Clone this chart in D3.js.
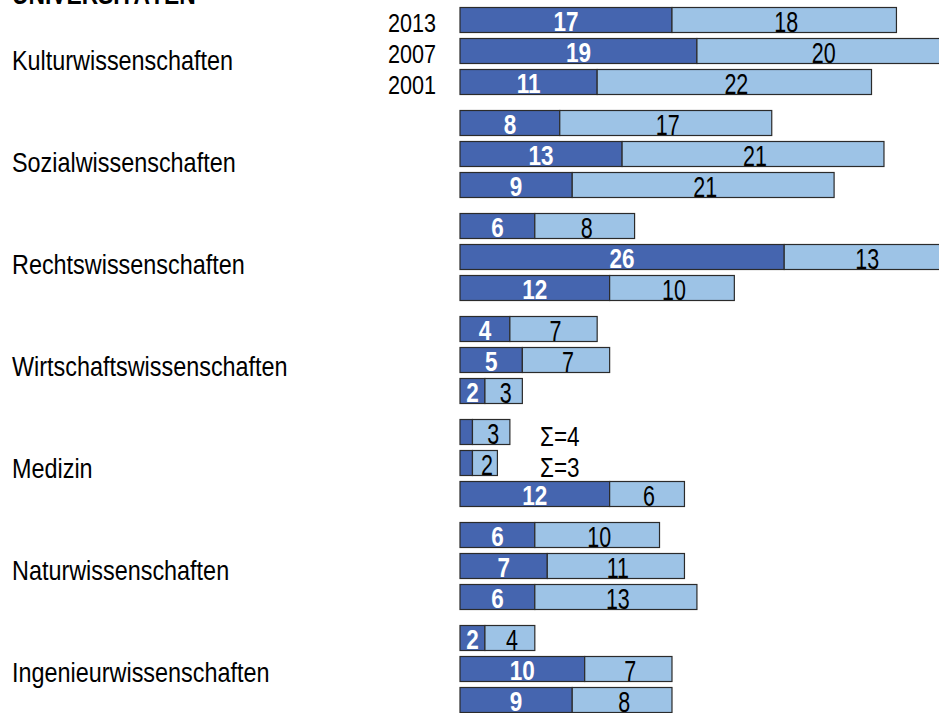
<!DOCTYPE html>
<html>
<head>
<meta charset="utf-8">
<script src="https://cdn.jsdelivr.net/npm/d3@7"></script>
<style>
  html, body { margin: 0; padding: 0; background: #fff; }
  svg { display: block; font-family: "Liberation Sans", Arial, sans-serif; }
</style>
</head>
<body>
<div id="chart"></div>
<script>
const title = 'UNIVERSITÄTEN'
const categories = ['Kulturwissenschaften', 'Sozialwissenschaften', 'Rechtswissenschaften',
    'Wirtschaftswissenschaften', 'Medizin', 'Naturwissenschaften', 'Ingenieurwissenschaften']
const years = ['2013', '2007', '2001']
// dark segment (first value), per category, per year
const darkValues = [[17, 19, 11], [8, 13, 9], [6, 26, 12], [4, 5, 2], [1, 1, 12], [6, 7, 6], [2, 10, 9]]
// light segment (second value)
const lightValues = [[18, 20, 22], [17, 21, 21], [8, 13, 10], [7, 7, 3], [3, 2, 6], [10, 11, 13], [4, 7, 8]]
// rows that get a total annotation
const sumNotes = [['Medizin', '2013'], ['Medizin', '2007']]

const width = 939, height = 713
const SY = 1.22 // the original text is stretched vertically
const DARK = '#4565AF', LIGHT = '#9DC3E6', EDGE = '#2b2b2b'

const svg = d3.select('#chart').append('svg')
    .attr('width', width).attr('height', height)

const x = d3.scaleLinear().domain([0, 40]).range([460, 958.8])

const yGroup = d3.scaleBand()
    .domain(categories)
    .range([7.5, 7.5 + categories.length * 103])

const yYear = d3.scaleBand()
    .domain(years)
    .range([0, 87])
    .paddingInner(0.1935)

const yLabel = d3.scalePoint().domain(categories).range([69.5, 681.5])

function stretchedText(g, tx, ty, sy = SY) {
    return g.append('text').attr('transform', `translate(${tx},${ty}) scale(1,${sy})`)
}

// title (cut off at top)
stretchedText(svg, 12, 4)
    .attr('font-size', '22.8px').attr('font-weight', 'bold').attr('fill', '#000')
    .text(title)

// category labels
categories.forEach(c => {
    stretchedText(svg, 12, yLabel(c))
        .attr('font-size', '23.4px').attr('fill', '#000')
        .text(c)
})

// year labels (first group only)
years.forEach(yr => {
    stretchedText(svg, 436, yGroup(categories[0]) + yYear(yr) + yYear.bandwidth() - 1)
        .attr('font-size', '21.6px').attr('text-anchor', 'end').attr('fill', '#000')
        .text(yr)
})

const rows = []
categories.forEach((c, i) => {
    years.forEach((yr, j) => {
        rows.push({ cat: c, year: yr, dark: darkValues[i][j], light: lightValues[i][j] })
    })
})

rows.forEach(r => {
    const top = yGroup(r.cat) + yYear(r.year)
    const bh = yYear.bandwidth()
    const base = top + bh - 1.5
    const x0 = x(0), x1 = x(r.dark), x2 = x(r.dark + r.light)

    svg.append('rect')
        .attr('x', x0).attr('y', top).attr('width', x1 - x0).attr('height', bh)
        .attr('fill', DARK).attr('stroke', EDGE).attr('stroke-width', 1.2)
    svg.append('rect')
        .attr('x', x1).attr('y', top).attr('width', x2 - x1).attr('height', bh)
        .attr('fill', LIGHT).attr('stroke', EDGE).attr('stroke-width', 1.2)

    if (x1 - x0 > 18) {
        stretchedText(svg, (x0 + x1) / 2, base)
            .attr('font-size', '22.5px').attr('font-weight', 'bold')
            .attr('text-anchor', 'middle').attr('fill', '#fff')
            .text(r.dark)
    }
    stretchedText(svg, (x1 + x2) / 2 + 2, base + 0.5, 1.33)
        .attr('font-size', '21.5px').attr('text-anchor', 'middle').attr('fill', '#000')
        .text(r.light)

    if (sumNotes.some(n => n[0] === r.cat && n[1] === r.year)) {
        stretchedText(svg, 540, top + bh + 1)
            .attr('font-size', '22.5px').attr('fill', '#000')
            .text('Σ=' + (r.dark + r.light))
    }
})
</script>
</body>
</html>
